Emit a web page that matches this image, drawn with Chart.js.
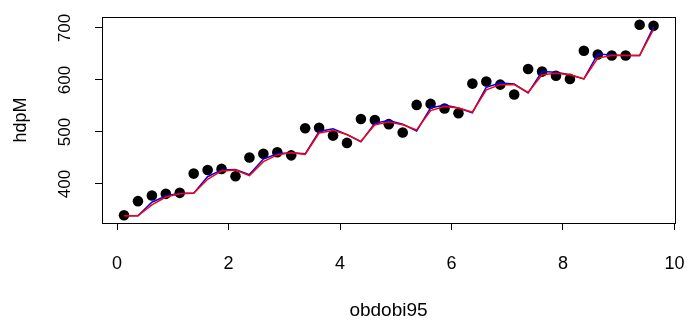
<!DOCTYPE html>
<html>
<head>
<meta charset="utf-8">
<script src="https://cdn.jsdelivr.net/npm/chart.js@4.4.1/dist/chart.umd.min.js"></script>
<style>
  html, body { margin: 0; padding: 0; background: #fff; }
</style>
</head>
<body>
<canvas id="myChart" width="688" height="320"></canvas>
<script>
// quarterly periods (x axis)
var obdobi = [0.125, 0.375, 0.625, 0.875, 1.125, 1.375, 1.625, 1.875, 2.125, 2.375,
  2.625, 2.875, 3.125, 3.375, 3.625, 3.875, 4.125, 4.375, 4.625, 4.875,
  5.125, 5.375, 5.625, 5.875, 6.125, 6.375, 6.625, 6.875, 7.125, 7.375,
  7.625, 7.875, 8.125, 8.375, 8.625, 8.875, 9.125, 9.375, 9.625];

// observed hdpM
var hdpM = [340, 367, 378, 381, 383, 420, 427, 429, 415, 451,
  458, 461, 455, 507, 508, 493, 479, 525, 523, 515,
  499, 552, 554, 545, 536, 593, 597, 591, 572, 621,
  616, 608, 602, 656, 649, 647, 647, 706, 704];

// fitted (blue)
var fitBlue = [339, 339, 365, 377, 382, 382, 414, 427, 428, 418,
  448, 458, 460, 458, 501, 506, 495, 481, 517, 522,
  515, 502, 546, 552, 546, 537, 586, 594, 592, 575,
  616, 615, 610, 602, 650, 648, 647, 647, 702];

// fitted (red)
var fitRed = [339, 339, 360, 375, 381, 382, 409, 425, 427, 416,
  443, 456, 460, 457, 498, 503, 495, 482, 514, 519,
  514, 504, 541, 549, 546, 538, 581, 591, 591, 576,
  610, 613, 610, 602, 642, 647, 647, 647, 697];

var xTicks = [0, 2, 4, 6, 8, 10];
var yTicks = [400, 500, 600, 700];

function pts(ys) {
  var out = [];
  for (var i = 0; i < obdobi.length; i++) out.push({ x: obdobi[i], y: ys[i] });
  return out;
}

var FONT = "'Liberation Sans', Arial, Helvetica, sans-serif";

// box + rotated y labels + axis titles, R style
var rStyle = {
  id: "rStyle",
  afterDraw: function (chart) {
    var ctx = chart.ctx;
    var a = chart.chartArea;
    var ys = chart.scales.y;
    ctx.save();
    ctx.strokeStyle = "#000";
    ctx.lineWidth = 1;
    ctx.strokeRect(a.left + 0.5, a.top + 0.5, a.right - a.left, a.bottom - a.top);

    ctx.fillStyle = "#000";
    ctx.font = "17px " + FONT;
    ctx.textAlign = "center";
    ctx.textBaseline = "middle";
    yTicks.forEach(function (v) {
      var py = ys.getPixelForValue(v);
      ctx.save();
      ctx.translate(65, py);
      ctx.rotate(-Math.PI / 2);
      ctx.fillText(String(v), 0, 0);
      ctx.restore();
    });

    ctx.font = "18px " + FONT;
    ctx.save();
    ctx.translate(21, (a.top + a.bottom) / 2);
    ctx.rotate(-Math.PI / 2);
    ctx.fillText("hdpM", 0, 0);
    ctx.restore();

    ctx.font = "19px " + FONT;
    ctx.fillText("obdobi95", (a.left + a.right) / 2, 311);
    ctx.restore();
  }
};

var chart = new Chart(document.getElementById("myChart").getContext("2d"), {
  type: "scatter",
  data: {
    datasets: [
      {
        label: "fit2",
        data: pts(fitRed),
        showLine: true,
        borderColor: "#ff0000",
        borderWidth: 1.5,
        pointRadius: 0,
        tension: 0
      },
      {
        label: "fit1",
        data: pts(fitBlue),
        showLine: true,
        borderColor: "#0000ff",
        borderWidth: 1.5,
        pointRadius: 0,
        tension: 0
      },
      {
        label: "hdpM",
        data: pts(hdpM),
        showLine: false,
        pointRadius: 5.3,
        pointBackgroundColor: "#000",
        pointBorderWidth: 0
      }
    ]
  },
  options: {
    responsive: false,
    animation: false,
    layout: { padding: { left: 0, right: 13, top: 17, bottom: 0 } },
    plugins: { legend: { display: false }, tooltip: { enabled: false } },
    scales: {
      x: {
        type: "linear",
        min: -0.27,
        max: 10.01,
        afterBuildTicks: function (s) { s.ticks = xTicks.map(function (v) { return { value: v }; }); },
        afterFit: function (s) { s.height = 97; s.paddingLeft = 0; s.paddingRight = 0; },
        border: { display: false },
        grid: { drawOnChartArea: false, drawTicks: true, tickLength: 7, color: "#000" },
        ticks: { color: "#000", font: { size: 18, family: FONT }, padding: 23, maxRotation: 0 }
      },
      y: {
        type: "linear",
        min: 325,
        max: 721,
        afterBuildTicks: function (s) { s.ticks = yTicks.map(function (v) { return { value: v }; }); },
        afterFit: function (s) { s.width = 102; s.paddingTop = 0; s.paddingBottom = 0; },
        border: { display: false },
        grid: { drawOnChartArea: false, drawTicks: true, tickLength: 7, color: "#000" },
        ticks: { display: false }
      }
    }
  },
  plugins: [rStyle]
});
</script>
</body>
</html>
